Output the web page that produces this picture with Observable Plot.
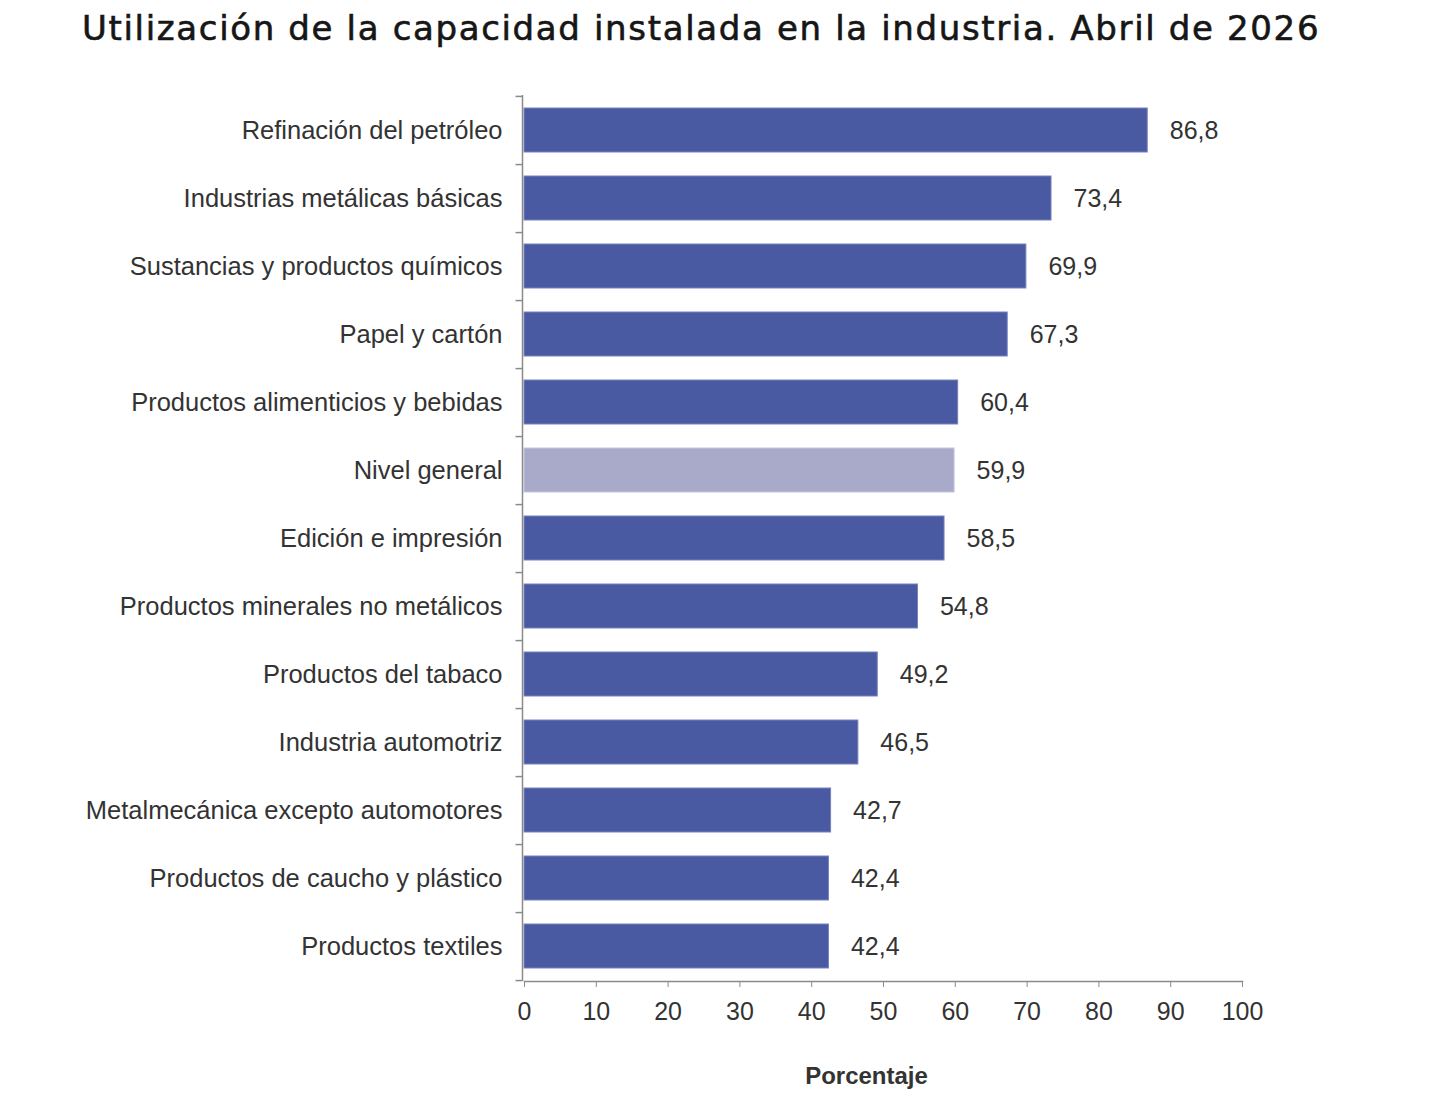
<!DOCTYPE html>
<html>
<head>
<meta charset="utf-8">
<script src="https://cdn.jsdelivr.net/npm/d3@7"></script>
<script src="https://cdn.jsdelivr.net/npm/@observablehq/plot@0.6"></script>
<style>
  html, body { margin: 0; padding: 0; background: #ffffff; }
  #wrap { width: 1440px; }
  #title {
    height: 70px;
    box-sizing: border-box;
    padding: 8px 0 0 82px;
    font-family: "DejaVu Sans", "Lato", sans-serif;
    font-weight: normal;
    font-size: 34px;
    letter-spacing: 1.65px;
    -webkit-text-stroke: 0.6px #161616;
    color: #161616;
    white-space: nowrap;
  }
  svg { display: block; }
</style>
</head>
<body>
<div id="wrap">
  <div id="title">Utilización de la capacidad instalada en la industria. Abril de 2026</div>
  <div id="chart"></div>
</div>
<script>
// Sectores industriales y su utilización de la capacidad (%)
const sectores = [
  "Refinación del petróleo",
  "Industrias metálicas básicas",
  "Sustancias y productos químicos",
  "Papel y cartón",
  "Productos alimenticios y bebidas",
  "Nivel general",
  "Edición e impresión",
  "Productos minerales no metálicos",
  "Productos del tabaco",
  "Industria automotriz",
  "Metalmecánica excepto automotores",
  "Productos de caucho y plástico",
  "Productos textiles"
];
const valores = [86.8, 73.4, 69.9, 67.3, 60.4, 59.9, 58.5, 54.8, 49.2, 46.5, 42.7, 42.4, 42.4];
const ticksX = [0, 10, 20, 30, 40, 50, 60, 70, 80, 90, 100];
const nivelGeneral = "Nivel general";

const data = sectores.map((s, i) => ({sector: s, valor: valores[i]}));

const width = 1440, height = 1030;
const marginTop = 25, marginBottom = 119, marginLeft = 524, marginRight = 198;
const step = (height - marginTop - marginBottom) / sectores.length;

const ink = "#333333";
const axisColor = "#8a8a8a";
const fs = 25;
const fmt = v => v.toFixed(1).replace(".", ",");

const chart = Plot.plot({
  width, height, marginTop, marginBottom, marginLeft, marginRight,
  style: {fontFamily: "'Liberation Sans', Arial, sans-serif", fontSize: fs + "px", color: ink, background: "#ffffff"},
  x: {domain: [0, 100], ticks: ticksX},
  y: {domain: sectores, paddingInner: 0.35, paddingOuter: 0.175, align: 0.5},
  marks: [
    Plot.barX(data, {
      x: "valor", y: "sector",
      fill: d => d.sector === nivelGeneral ? "#a9aac9" : "#4a5aa2",
      stroke: d => d.sector === nivelGeneral ? "#c4c5dc" : "#7781bb",
      strokeWidth: 1
    }),
    Plot.text(data, {
      x: "valor", y: "sector", text: d => fmt(d.valor),
      dx: 22, textAnchor: "start", fill: ink, fontSize: fs
    }),
    // eje vertical y marcas entre categorías
    Plot.ruleX([0], {stroke: axisColor, strokeWidth: 1.5, dx: -2}),
    Plot.ruleY(sectores, {y: d => d, x1: -0.9, x2: 0, dx: -2, dy: step / 2, stroke: axisColor, strokeWidth: 1.5}),
    Plot.ruleY([sectores[0]], {y: d => d, x1: -0.9, x2: 0, dx: -2, dy: -step / 2, stroke: axisColor, strokeWidth: 1.5}),
    Plot.axisY({tickSize: 0, tickPadding: 22, fontSize: 25.5, fill: ink, label: null}),
    // eje horizontal
    Plot.frame({anchor: "bottom", stroke: axisColor, strokeWidth: 1.5}),
    Plot.axisX({ticks: ticksX, tickSize: 6, tickPadding: 15, fontSize: fs, fill: ink, stroke: axisColor, label: null}),
    Plot.text(["Porcentaje"], {frameAnchor: "bottom", dy: 102, dx: -17, fontWeight: "bold", fontSize: 24, fill: ink})
  ]
});

document.getElementById("chart").appendChild(chart);
</script>
</body>
</html>
